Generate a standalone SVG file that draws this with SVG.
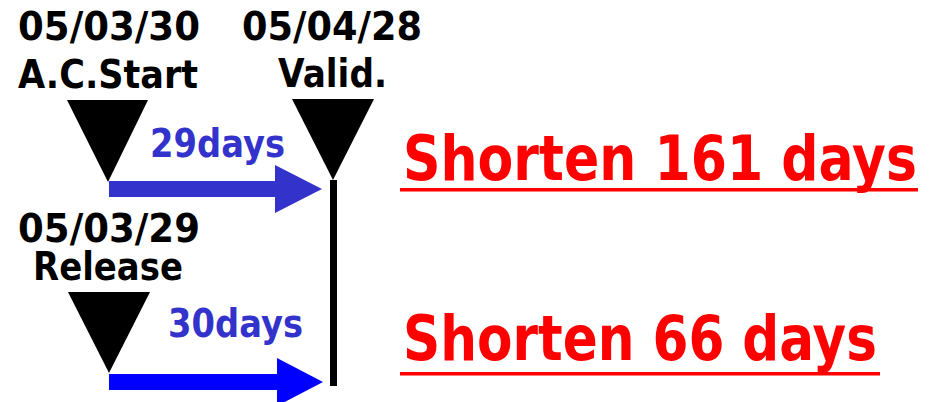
<svg xmlns="http://www.w3.org/2000/svg" width="935" height="402" viewBox="0 0 935 402">
<style>
.lbl{font-family:"DejaVu Sans","Liberation Sans",sans-serif;font-weight:bold;font-size:39px;fill:#000}
.days{font-family:"DejaVu Sans","Liberation Sans",sans-serif;font-weight:bold;font-size:39px;fill:#3333CC}
.red{font-family:"DejaVu Sans","Liberation Sans",sans-serif;font-weight:bold;font-size:62px;fill:#FF0000}
.tri{fill:#000}
</style>
<rect width="935" height="402" fill="#fff"/>
<g id="ac-start">
<text class="lbl" x="18" y="40" textLength="182" lengthAdjust="spacingAndGlyphs">05/03/30</text>
<text class="lbl" x="18" y="88" textLength="180" lengthAdjust="spacingAndGlyphs">A.C.Start</text>
<polygon class="tri" points="67,100 148,100 108,182"/>
</g>
<g id="valid">
<text class="lbl" x="242" y="40" textLength="180" lengthAdjust="spacingAndGlyphs">05/04/28</text>
<text class="lbl" x="278" y="87" textLength="109" lengthAdjust="spacingAndGlyphs">Valid.</text>
<polygon class="tri" points="292,99 374,99 333,180"/>
<rect x="330" y="180" width="7" height="206" fill="#000"/>
</g>
<g id="release">
<text class="lbl" x="18" y="242" textLength="182" lengthAdjust="spacingAndGlyphs">05/03/29</text>
<text class="lbl" x="33" y="280" textLength="150" lengthAdjust="spacingAndGlyphs">Release</text>
<polygon class="tri" points="68,292 150,292 109,373"/>
</g>
<g id="connectors">
<polygon fill="#3333CC" points="109,181 275,181 275,165 322,189 275,213 275,197 109,197"/>
<text class="days" x="150" y="157" textLength="135" lengthAdjust="spacingAndGlyphs">29days</text>
<polygon fill="#0000FF" points="109,374 277,374 277,358 323,382 277,406 277,390 109,390"/>
<text class="days" x="168" y="337" textLength="135" lengthAdjust="spacingAndGlyphs">30days</text>
</g>
<g id="shorten-161">
<text class="red" x="403" y="180" textLength="514" lengthAdjust="spacingAndGlyphs">Shorten 161 days</text>
<rect x="400" y="188" width="518" height="3.5" fill="#FF0000"/>
</g>
<g id="shorten-66">
<text class="red" x="403" y="360" textLength="474" lengthAdjust="spacingAndGlyphs">Shorten 66 days</text>
<rect x="400" y="372" width="480" height="3.5" fill="#FF0000"/>
</g>
</svg>
